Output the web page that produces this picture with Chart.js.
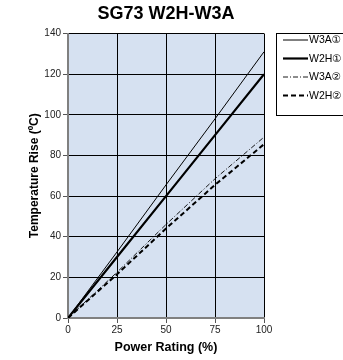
<!DOCTYPE html>
<html>
<head>
<meta charset="utf-8">
<script src="https://cdn.jsdelivr.net/npm/chart.js@4/dist/chart.umd.min.js"></script>
<style>
html,body{margin:0;padding:0;background:#fff;}
#wrap{width:343px;height:360px;position:relative;}
</style>
</head>
<body>
<div id="wrap"><canvas id="c" width="343" height="360"></canvas></div>
<script>
const titleText = "SG73 W2H-W3A";
const xTitle = "Power Rating (%)";
const yTitle = "Temperature Rise (ºC)";
const powerRating = [0, 25, 50, 75, 100];
const w3a1 = [0, 32.5, 65.5, 98, 131];
const w2h1 = [0, 30, 60, 90, 120];
const w3a2 = [0, 22.5, 46, 68.5, 89];
const w2h2 = [0, 21.5, 44, 65.5, 85.5];
const seriesNames = ["W3A①", "W2H①", "W3A②", "W2H②"];
const xTicks = [0, 25, 50, 75, 100];
const yTicks = [0, 20, 40, 60, 80, 100, 120, 140];

const FONT = "'Liberation Sans', Arial, 'DejaVu Sans', sans-serif";
const styles = [
  {w: 1, dash: []},
  {w: 2.2, dash: []},
  {w: 0.9, dash: [5, 2, 1, 2]},
  {w: 2, dash: [5, 3]}
];
const seriesData = [w3a1, w2h1, w3a2, w2h2];

const datasets = seriesData.map((arr, i) => ({
  label: seriesNames[i],
  data: powerRating.map((x, j) => ({x: x, y: arr[j]})),
  borderColor: '#000',
  borderWidth: styles[i].w,
  borderDash: styles[i].dash,
  pointRadius: 0,
  fill: false,
  tension: 0
}));

const deco = {
  id: 'deco',
  beforeDraw(chart) {
    const {ctx, chartArea: a} = chart;
    ctx.save();
    ctx.fillStyle = '#d6e1f1';
    ctx.fillRect(a.left, a.top, a.right - a.left, a.bottom - a.top);
    ctx.restore();
  },
  afterDraw(chart) {
    const {ctx, chartArea: a} = chart;
    ctx.save();
    ctx.fillStyle = '#000';
    ctx.font = "bold 18px " + FONT;
    ctx.textAlign = 'center';
    ctx.textBaseline = 'middle';
    ctx.fillText(titleText, (a.left + a.right) / 2, 14);
    const bx = 276.5, by = 33.5, bw = 80, bh = 82;
    ctx.fillStyle = '#fff';
    ctx.fillRect(bx, by, bw, bh);
    ctx.strokeStyle = '#000';
    ctx.lineWidth = 1;
    ctx.setLineDash([]);
    ctx.strokeRect(bx, by, bw, bh);
    const rows = [40, 58.5, 77, 95.5];
    ctx.font = "10.5px " + FONT;
    ctx.textAlign = 'left';
    ctx.textBaseline = 'middle';
    seriesNames.forEach((n, i) => {
      const y = rows[i];
      ctx.beginPath();
      ctx.lineWidth = styles[i].w;
      ctx.setLineDash(styles[i].dash);
      ctx.moveTo(283, y);
      ctx.lineTo(308, y);
      ctx.stroke();
      ctx.setLineDash([]);
      ctx.fillStyle = '#000';
      ctx.fillText(n, 309, y + 0.5);
    });
    ctx.restore();
  }
};

new Chart(document.getElementById('c'), {
  type: 'line',
  data: {datasets},
  plugins: [deco],
  options: {
    responsive: false,
    animation: false,
    devicePixelRatio: 1,
    layout: {padding: {left: 0, right: 79, top: 33.5, bottom: 0}},
    plugins: {legend: {display: false}, title: {display: false}, tooltip: {enabled: false}},
    scales: {
      x: {
        type: 'linear', min: 0, max: 100,
        afterBuildTicks: s => { s.ticks = xTicks.map(v => ({value: v})); },
        afterFit: s => { s.height = 42; },
        grid: {color: '#000', lineWidth: 1, tickLength: 5, tickColor: '#555', drawOnChartArea: true},
        border: {display: true, color: '#808080', width: 2},
        ticks: {color: '#222', font: {size: 10, family: FONT}, padding: 1, maxRotation: 0},
        title: {display: true, text: xTitle, color: '#000', font: {size: 12.5, weight: 'bold', family: FONT}, padding: {top: 2, bottom: 4.5}}
      },
      y: {
        type: 'linear', min: 0, max: 140,
        afterBuildTicks: s => { s.ticks = yTicks.map(v => ({value: v})); },
        afterFit: s => { s.width = 68; },
        grid: {color: '#000', lineWidth: 1, tickLength: 5, tickColor: '#555'},
        border: {display: true, color: '#808080', width: 2},
        ticks: {color: '#222', font: {size: 10, family: FONT}, padding: 2},
        title: {display: true, text: yTitle, color: '#000', font: {size: 12, weight: 'bold', family: FONT}, padding: {top: 27, bottom: 4}}
      }
    }
  }
});
</script>
</body>
</html>
